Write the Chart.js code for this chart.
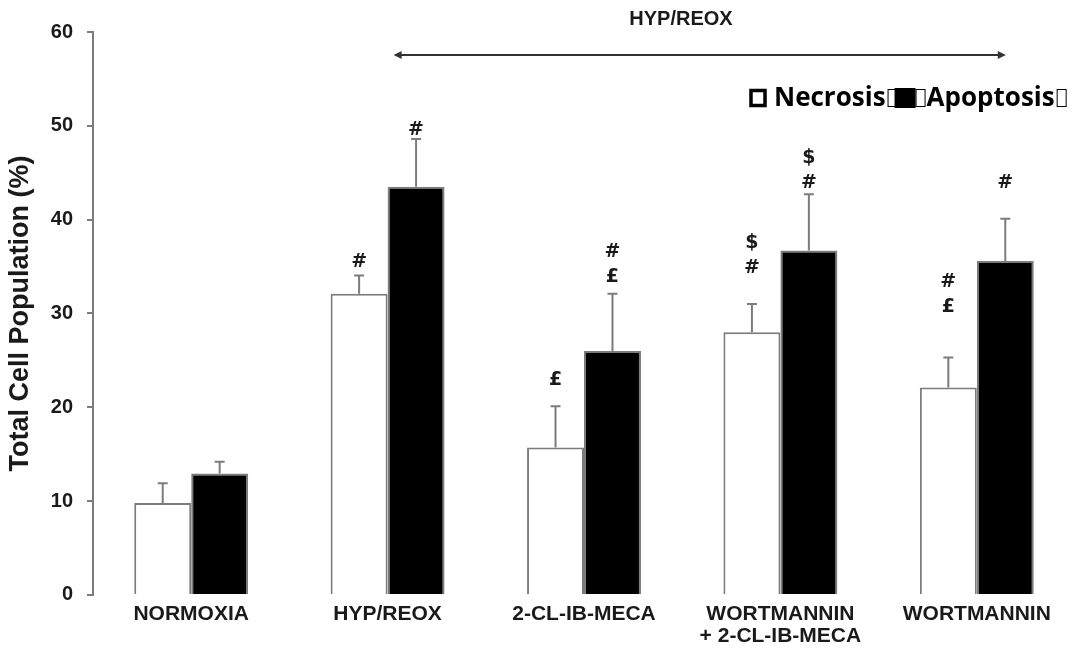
<!DOCTYPE html>
<html>
<head>
<meta charset="utf-8">
<script src="https://cdn.jsdelivr.net/npm/chart.js@4"></script>
<style>
  html, body { margin: 0; padding: 0; background: #fff; }
  #wrap { width: 1079px; height: 653px; }
</style>
</head>
<body>
<div id="wrap"><canvas id="chart"></canvas></div>
<script>
const categories = ['NORMOXIA', 'HYP/REOX', '2-CL-IB-MECA', ['WORTMANNIN', '+ 2-CL-IB-MECA'], 'WORTMANNIN'];
const necrosis = [9.8, 32.1, 15.7, 28.0, 22.1];
const necrosisSem = [2.1, 1.95, 4.4, 3.0, 3.2];
const apoptosis = [12.95, 43.5, 26.0, 36.7, 35.6];
const apoptosisSem = [1.25, 5.1, 6.1, 6.0, 4.5];
// significance marks, top line first, and the level of the top line
const necrosisMarks = [[], ['#'], ['£'], ['$', '#'], ['#', '£']];
const necrosisMarkLevel = [null, 35.5, 22.9, 37.5, 33.3];
const apoptosisMarks = [[], ['#'], ['#', '£'], ['$', '#'], ['#']];
const apoptosisMarkLevel = [null, 49.6, 36.5, 46.6, 43.9];
const yTicks = [0, 10, 20, 30, 40, 50, 60];

const GREY = '#7c7c7c';
const TEXT = '#1a1a1a';

const errorBarPlugin = {
  id: 'errorBars',
  afterDatasetsDraw(chart) {
    const { ctx, scales: { y } } = chart;
    const sems = [necrosisSem, apoptosisSem];
    ctx.save();
    ctx.strokeStyle = GREY;
    ctx.lineWidth = 2;
    chart.data.datasets.forEach((ds, i) => {
      const meta = chart.getDatasetMeta(i);
      meta.data.forEach((bar, j) => {
        const top = y.getPixelForValue(ds.data[j] + sems[i][j]);
        ctx.beginPath();
        ctx.moveTo(bar.x, bar.y);
        ctx.lineTo(bar.x, top);
        ctx.moveTo(bar.x - 5, top);
        ctx.lineTo(bar.x + 5, top);
        ctx.stroke();
      });
    });
    ctx.restore();
  }
};

const marksPlugin = {
  id: 'marks',
  afterDraw(chart) {
    const { ctx, scales: { y } } = chart;
    const marks = [necrosisMarks, apoptosisMarks];
    const levels = [necrosisMarkLevel, apoptosisMarkLevel];
    ctx.save();
    ctx.fillStyle = TEXT;
    ctx.font = 'bold 19px "DejaVu Sans"';
    ctx.textAlign = 'center';
    ctx.textBaseline = 'middle';
    for (let i = 0; i < 2; i++) {
      const meta = chart.getDatasetMeta(i);
      meta.data.forEach((bar, j) => {
        if (!marks[i][j].length) return;
        const y0 = y.getPixelForValue(levels[i][j]);
        marks[i][j].forEach((m, k) => ctx.fillText(m, bar.x, y0 + k * 25));
      });
    }
    ctx.restore();
  }
};

const decorPlugin = {
  id: 'decor',
  afterDraw(chart) {
    const { ctx, scales: { x } } = chart;
    ctx.save();
    // HYP/REOX bracket arrow
    const x1 = x.getPixelForValue(1) + 6;
    const x2 = x.getPixelForValue(4) + 29;
    const ay = 55;
    ctx.strokeStyle = '#333';
    ctx.fillStyle = '#333';
    ctx.lineWidth = 2;
    ctx.beginPath();
    ctx.moveTo(x1 + 4, ay);
    ctx.lineTo(x2 - 4, ay);
    ctx.stroke();
    [[x1, 1], [x2, -1]].forEach(([px, d]) => {
      ctx.beginPath();
      ctx.moveTo(px, ay);
      ctx.lineTo(px + 8 * d, ay - 4);
      ctx.lineTo(px + 8 * d, ay + 4);
      ctx.closePath();
      ctx.fill();
    });
    ctx.fillStyle = TEXT;
    ctx.font = 'bold 20px "Liberation Sans"';
    ctx.textAlign = 'center';
    ctx.textBaseline = 'middle';
    ctx.fillText('HYP/REOX', 681, 19);

    // legend (keeps the original's missing-glyph boxes)
    const ly = 98;
    ctx.fillStyle = '#000';
    ctx.strokeStyle = '#000';
    ctx.lineWidth = 3.5;
    ctx.strokeRect(751, ly - 7.5, 14, 15);
    const tofu = (px) => {
      ctx.save();
      ctx.lineWidth = 1;
      ctx.strokeRect(px + 0.5, ly - 8.5, 9, 17);
      ctx.restore();
    };
    ctx.font = 'bold 26px "Open Sans"';
    ctx.textAlign = 'left';
    ctx.textBaseline = 'middle';
    ctx.fillText('Necrosis', 774, ly + 1);
    let lx = 774 + ctx.measureText('Necrosis').width;
    tofu(lx + 2);
    ctx.fillRect(lx + 9, ly - 10, 21, 20);
    tofu(lx + 30);
    lx += 41;
    ctx.fillText('Apoptosis', lx, ly + 1);
    lx += ctx.measureText('Apoptosis').width;
    tofu(lx + 2);
    ctx.restore();
  }
};

new Chart(document.getElementById('chart'), {
  type: 'bar',
  data: {
    labels: categories,
    datasets: [
      { label: 'Necrosis', data: necrosis, backgroundColor: '#ffffff', borderColor: GREY, borderWidth: 2 },
      { label: 'Apoptosis', data: apoptosis, backgroundColor: '#000000', borderColor: GREY, borderWidth: 2 }
    ]
  },
  options: {
    responsive: true,
    maintainAspectRatio: false,
    animation: false,
    events: [],
    categoryPercentage: 0.58,
    barPercentage: 1.0,
    layout: { padding: { top: 32, right: 4, left: 0, bottom: 6 } },
    plugins: {
      legend: { display: false },
      tooltip: { enabled: false }
    },
    scales: {
      x: {
        grid: { display: false },
        border: { display: false },
        ticks: {
          color: TEXT,
          font: { family: 'Liberation Sans', size: 21, weight: 'bold', lineHeight: 1.05 },
          maxRotation: 0,
          autoSkip: false,
          padding: 0
        }
      },
      y: {
        min: 0,
        max: 60,
        afterBuildTicks(axis) { axis.ticks = yTicks.map(v => ({ value: v })); },
        afterFit(axis) { axis.width = 93; },
        grid: { drawOnChartArea: false, drawTicks: true, tickLength: 6, color: GREY, lineWidth: 2 },
        border: { display: true, color: GREY, width: 2 },
        ticks: {
          color: TEXT,
          font: { family: 'Liberation Sans', size: 20, weight: 'bold' },
          padding: 14
        },
        title: {
          display: true,
          text: 'Total Cell Population (%)',
          color: TEXT,
          font: { family: 'Liberation Sans', size: 27, weight: 'bold' },
          padding: { top: 4, bottom: 4 }
        }
      }
    }
  },
  plugins: [errorBarPlugin, marksPlugin, decorPlugin]
});
</script>
</body>
</html>
